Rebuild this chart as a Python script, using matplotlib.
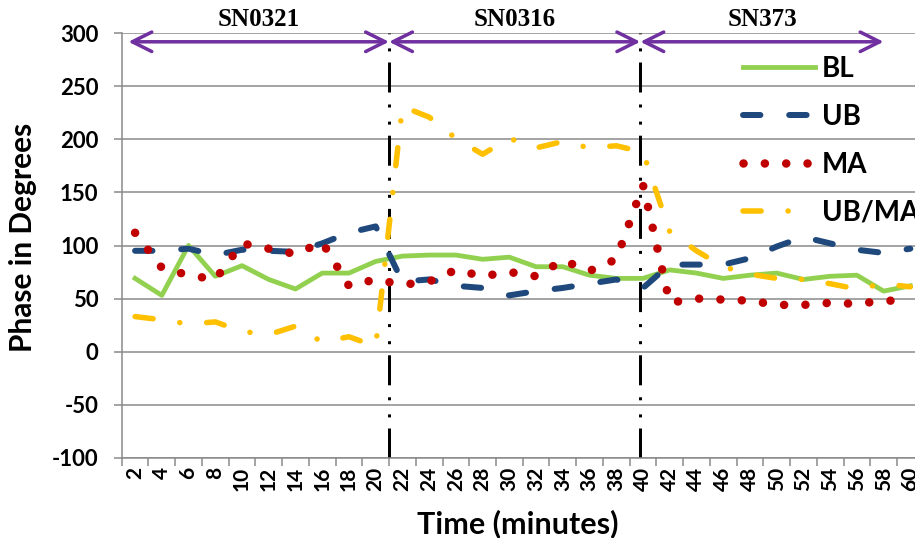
import numpy as np
import matplotlib
matplotlib.use('Agg')
import matplotlib.pyplot as plt
from matplotlib.transforms import blended_transform_factory

minutes = list(range(2, 62, 2))
bl = [69, 53, 100, 71, 81, 68, 59, 74, 74, 85,
      90, 91, 91, 87, 89, 80, 80, 72, 69, 69,
      77, 74, 69, 72, 74, 68, 71, 72, 57, 62]
ub = [95, 95, 97, 91, 96, 95, 94, 102, 112, 118,
      66, 68, 62, 60, 53, 57, 60, 64, 68, 60,
      82, 82, 82, 88, 99, 108, 102, 96, 93, 97]
ma = [112, 79, 72, 68, 102, 97, 92, 103, 62, 68,
      63, 66, 77, 71, 75, 71, 86, 76, 87, 157,
      46, 50, 49, 48, 44, 44, 46, 45, 48, 48]
ub_ma = [33, 30, 26, 28, 19, 16, 24, 9, 14, 5,
         231, 221, 201, 186, 201, 192, 198, 192, 194, 188,
         113, 95, 80, 73, 69, 68, 64, 59, 64, 61]
sections = ['SN0321', 'SN0316', 'SN373']
section_edges = [1.5, 21, 39.8, 58]   # minutes

plt.rcParams['font.family'] = ['Lato', 'DejaVu Sans']
plt.rcParams['font.weight'] = 'bold'
plt.rcParams['axes.unicode_minus'] = False

grid_col = '#888888'
px = 0.72  # points per pixel at dpi 100

fig = plt.figure(figsize=(9.15, 5.38), dpi=100)
ax = fig.add_axes([121.7/915, 80.3/538, 802/915, 424.4/538])

x = np.arange(len(minutes))
pos = lambda m: (m - 2) / 2.0

ax.plot(x, bl, color='#92D050', lw=4.8*px, solid_joinstyle='round', label='BL', zorder=3)
ax.plot(x, ub, color='#1F497D', lw=6*px, linestyle=(0, (2.9, 4.8)),
        dash_capstyle='round', dash_joinstyle='round', label='UB', zorder=3)
ax.plot(x, ma, color='#C00000', lw=8.5*px, linestyle=(0, (0.01, 2.5)),
        dash_capstyle='round', label='MA', zorder=3)
ax.plot(x, ub_ma, color='#FFC000', lw=5.5*px, linestyle=(0, (3.3, 4.9, 0.01, 4.9)),
        dash_capstyle='round', dash_joinstyle='round', label='UB/MA', zorder=3)

# section dividers
for m in section_edges[1:3]:
    ax.axvline(pos(m), color='black', lw=3*px,
               linestyle=(0, (10, 3.7, 1, 4.7, 1, 4)), zorder=2)

# section arrows and names
trans = blended_transform_factory(ax.transData, ax.transAxes)
for name, a, b in zip(sections, section_edges[:-1], section_edges[1:]):
    ax.annotate('', xy=(pos(b), 292), xytext=(pos(a), 292), annotation_clip=False,
                arrowprops=dict(arrowstyle='<->,head_length=1.4,head_width=0.7',
                                mutation_scale=10, color='#7030A0', lw=3.5*px,
                                shrinkA=0, shrinkB=0), zorder=4)
    ax.text((pos(a) + pos(b)) / 2, 1.032, name, transform=trans, ha='center', va='center',
            fontsize=18, family='Liberation Serif', fontweight='bold', clip_on=False)

ax.set_ylim(-100, 300)
ax.set_xlim(-0.5, len(minutes) - 0.5)
ax.set_yticks(range(-100, 301, 50))
ax.yaxis.grid(True, color=grid_col, lw=1.5*px)
ax.set_axisbelow(True)
for s in ['top', 'right']:
    ax.spines[s].set_visible(False)
for s in ['left', 'bottom']:
    ax.spines[s].set_color(grid_col)
    ax.spines[s].set_linewidth(1.5*px)

ax.set_xticks(x)
ax.set_xticklabels([str(m) for m in minutes], rotation=90, fontsize=15)
ax.set_xticks(np.arange(-0.5, len(minutes)), minor=True)
ax.tick_params(axis='x', which='major', length=0, pad=6.5)
ax.tick_params(axis='x', which='minor', length=8*px, width=1.5*px, color=grid_col, direction='out')
ax.tick_params(axis='y', length=8*px, width=1.5*px, color=grid_col, labelsize=16, pad=11)

fig.text(23/915, 1 - 237/538, 'Phase in Degrees', rotation=90, ha='center', va='center',
         fontsize=21.5, fontweight='bold')
fig.text(518/915, 1 - 524/538, 'Time (minutes)', ha='center', va='center',
         fontsize=22, fontweight='bold')

ax.legend(loc='upper left', bbox_to_anchor=(0.775, 0.9465), frameon=False, fontsize=20,
          handlelength=2.6, handletextpad=0.22, labelspacing=0.79, borderpad=0, borderaxespad=0)

plt.savefig('out.png', dpi=100)
